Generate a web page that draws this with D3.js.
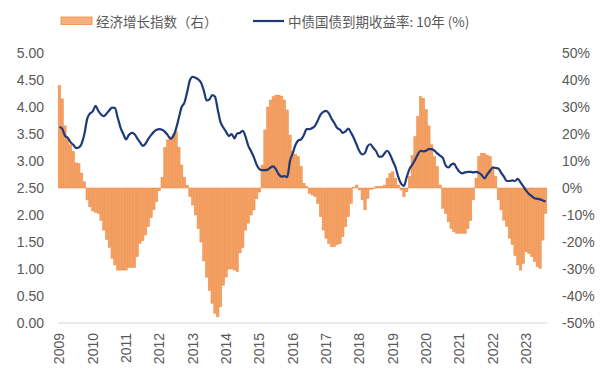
<!DOCTYPE html>
<html>
<head>
<meta charset="utf-8">
<script src="https://cdn.jsdelivr.net/npm/d3@7"></script>
<style>
  html, body { margin: 0; padding: 0; background: #fff; }
  svg { display: block; }
</style>
</head>
<body>
<svg id="chart" width="603" height="375"></svg>
<script>
// ---------------- data ----------------
const years = ["2009","2010","2011","2012","2013","2014","2015","2016","2017","2018","2019","2020","2021","2022","2023"];
const monthsInLastYear = 8;

// 经济增长指数（右）, % (monthly)
const growthIndex = [
  38, 33, 23, 18, 16, 13.5, 9.3, 9, 5.5, 2.3, -4.4, -7,
  -8.5, -9, -9.4, -12, -15.6, -19, -22, -26, -28.5, -30.4, -30.4, -30.4,
  -30.4, -29.4, -29.4, -29.4, -25.4, -20.5, -19.5, -17.4, -14.3, -11, -8, -5,
  -1, 4, 15, 17.8, 19, 20, 20.9, 15, 8.5, 4, 1, -3.2,
  -6.3, -10, -15, -20, -27, -33, -38, -42.7, -46.4, -47.7, -44, -36,
  -33, -30, -30, -30.4, -31, -24, -22, -15.6, -13, -10, -8.1, -4,
  -1.5, 8.5, 21.5, 30, 32.6, 33.8, 34.4, 34.4, 34, 32.6, 28.9, 19.6,
  13.5, 12.5, 11.6, 7.9, 1.7, 0.5, -2, -2.6, -3.2, -5.7, -10.6, -15.6,
  -18.6, -20.5, -21.7, -21.7, -21, -20.5, -18, -14.3, -10.6, -5.7, 0.3, 1.1,
  -0.7, -4.4, -8.1, -3.8, -0.5, -0.3, 0.5, 0.5, 0.5, 1.1, 3.6, 5.4,
  6, 3.6, 1.1, -0.7, -3.2, -1.4, 4.2, 12, 19, 26.4, 33.8, 33.2,
  29, 23, 16, 11.6, 7.9, 1.1, -7.5, -9.4, -12.5, -15, -16.2, -16.8,
  -16.8, -16.8, -16.8, -15, -12, -4.4, 3.6, 11.6, 12.8, 12.8, 12.2, 11.6,
  7.9, 4.2, -4.4, -8.1, -11.9, -14.3, -18.6, -21, -25, -28.5, -30.4, -27.9,
  -23.6, -24.2, -25.4, -27.3, -29.1, -29.8, -19.3, -9.4
];

// 中债国债到期收益率:10年 (%) (monthly)
const bondYield = [
  3.63, 3.60, 3.47, 3.43, 3.35, 3.30, 3.24, 3.25, 3.32, 3.50, 3.78, 3.88,
  3.92, 4.02, 3.93, 3.86, 3.83, 3.88, 3.94, 3.99, 3.98, 3.80, 3.62, 3.50,
  3.40, 3.48, 3.52, 3.50, 3.42, 3.35, 3.28, 3.32, 3.41, 3.48, 3.54, 3.58,
  3.59, 3.58, 3.54, 3.48, 3.41, 3.46, 3.60, 3.80, 4.00, 4.08, 4.28, 4.50,
  4.56, 4.54, 4.51, 4.45, 4.30, 4.12, 4.14, 4.22, 4.19, 3.95, 3.72, 3.62,
  3.54, 3.46, 3.50, 3.42, 3.51, 3.52, 3.56, 3.45, 3.28, 3.18, 3.07, 2.93,
  2.85, 2.83, 2.83, 2.84, 2.88, 2.90, 2.84, 2.75, 2.71, 2.72, 2.70, 3.00,
  3.15, 3.30, 3.38, 3.40, 3.48, 3.59, 3.59, 3.61, 3.65, 3.75, 3.86, 3.91,
  3.93, 3.88, 3.78, 3.70, 3.61, 3.58, 3.52, 3.55, 3.60, 3.52, 3.42, 3.30,
  3.18, 3.12, 3.15, 3.28, 3.31, 3.24, 3.18, 3.08, 3.08, 3.14, 3.19, 3.12,
  3.00, 2.88, 2.70, 2.58, 2.54, 2.70, 2.85, 2.93, 3.02, 3.12, 3.19, 3.18,
  3.19, 3.22, 3.22, 3.19, 3.14, 3.10, 3.06, 2.92, 2.88, 2.93, 2.95, 2.87,
  2.80, 2.77, 2.79, 2.80, 2.80, 2.79, 2.80, 2.78, 2.74, 2.68, 2.75, 2.82,
  2.88, 2.87, 2.86, 2.78, 2.71, 2.63, 2.63, 2.64, 2.63, 2.67, 2.60, 2.53,
  2.45, 2.39, 2.35, 2.31, 2.30, 2.29, 2.27, 2.25
];

const leftTicks = [0, 0.5, 1, 1.5, 2, 2.5, 3, 3.5, 4, 4.5, 5];
const rightTicks = [-50, -40, -30, -20, -10, 0, 10, 20, 30, 40, 50];
const legendLabels = ["经济增长指数（右）", "中债国债到期收益率: 10年 (%)"];

// categories: one per month
const categories = [];
years.forEach((y, i) => {
  const n = i === years.length - 1 ? monthsInLastYear : 12;
  for (let k = 1; k <= n; k++) categories.push(y + "-" + String(k).padStart(2, "0"));
});

// ---------------- chart ----------------
const svg = d3.select("#chart");
const plot = { left: 58, right: 547, top: 53, bottom: 323 };
const textColor = "#595959";
const font = "'Liberation Sans', Arial, sans-serif";
const fs = "14px";

const x = d3.scaleBand().domain(categories).range([plot.left, plot.right]).paddingInner(0.14).paddingOuter(0.07);
const yL = d3.scaleLinear().domain([0, 5]).range([plot.bottom, plot.top]);
const yR = d3.scaleLinear().domain([-50, 50]).range([plot.bottom, plot.top]);

// bars
svg.append("g").selectAll("rect").data(categories).join("rect")
  .attr("x", d => x(d))
  .attr("width", x.bandwidth())
  .attr("y", (d, i) => yR(Math.max(0, growthIndex[i])))
  .attr("height", (d, i) => Math.abs(yR(growthIndex[i]) - yR(0)))
  .attr("fill", "#F4A165")
  .attr("stroke", "#EE853C")
  .attr("stroke-width", 0.5);

// x axis line
svg.append("line")
  .attr("x1", plot.left).attr("x2", plot.right)
  .attr("y1", plot.bottom).attr("y2", plot.bottom)
  .attr("stroke", "#D9D9D9").attr("stroke-width", 1);

// line
const line = d3.line()
  .x((d, i) => x(categories[i]) + x.bandwidth() / 2)
  .y(d => yL(d))
  .curve(d3.curveMonotoneX);
svg.append("path").datum(bondYield)
  .attr("d", line)
  .attr("fill", "none")
  .attr("stroke", "#1F3A78")
  .attr("stroke-width", 2.2)
  .attr("stroke-linejoin", "round");

// left axis
const leftAxis = d3.axisLeft(yL).tickValues(leftTicks).tickFormat(d3.format(".2f")).tickSize(0).tickPadding(14);
const gL = svg.append("g").attr("transform", `translate(${plot.left},0)`).call(leftAxis);
gL.select(".domain").remove();
gL.selectAll("text").attr("fill", textColor).style("font-family", font).style("font-size", fs);

// right axis
const rightAxis = d3.axisRight(yR).tickValues(rightTicks).tickFormat(d => d + "%").tickSize(0).tickPadding(15);
const gR = svg.append("g").attr("transform", `translate(${plot.right},0)`).call(rightAxis);
gR.select(".domain").remove();
gR.selectAll("text").attr("fill", textColor).style("font-family", font).style("font-size", fs);

// x labels (years) rotated
const yearTicks = years.map((y, i) => categories[i * 12]);
svg.append("g").selectAll("text").data(yearTicks).join("text")
  .attr("transform", d => `translate(${x(d) + x.bandwidth() / 2},333) rotate(-90)`)
  .attr("text-anchor", "end")
  .attr("dy", "0.35em")
  .attr("fill", textColor)
  .style("font-family", font)
  .style("font-size", fs)
  .text(d => d.slice(0, 4));

// legend
const lg = svg.append("g");
lg.append("rect").attr("x", 61).attr("y", 17).attr("width", 31).attr("height", 7.5)
  .attr("fill", "#F6B07E").attr("stroke", "#EE8A45").attr("stroke-width", 0.8);
lg.append("text").attr("x", 96).attr("y", 26.5).attr("fill", textColor)
  .style("font-family", "'Noto Sans CJK SC', sans-serif").style("font-size", "13.5px")
  .text(legendLabels[0]);
lg.append("line").attr("x1", 253).attr("x2", 284).attr("y1", 21).attr("y2", 21)
  .attr("stroke", "#1F3A78").attr("stroke-width", 2.2);
lg.append("text").attr("x", 288).attr("y", 26.5).attr("fill", textColor)
  .style("font-family", "'Noto Sans CJK SC', sans-serif").style("font-size", "13.5px")
  .text(legendLabels[1]);
</script>
</body>
</html>
